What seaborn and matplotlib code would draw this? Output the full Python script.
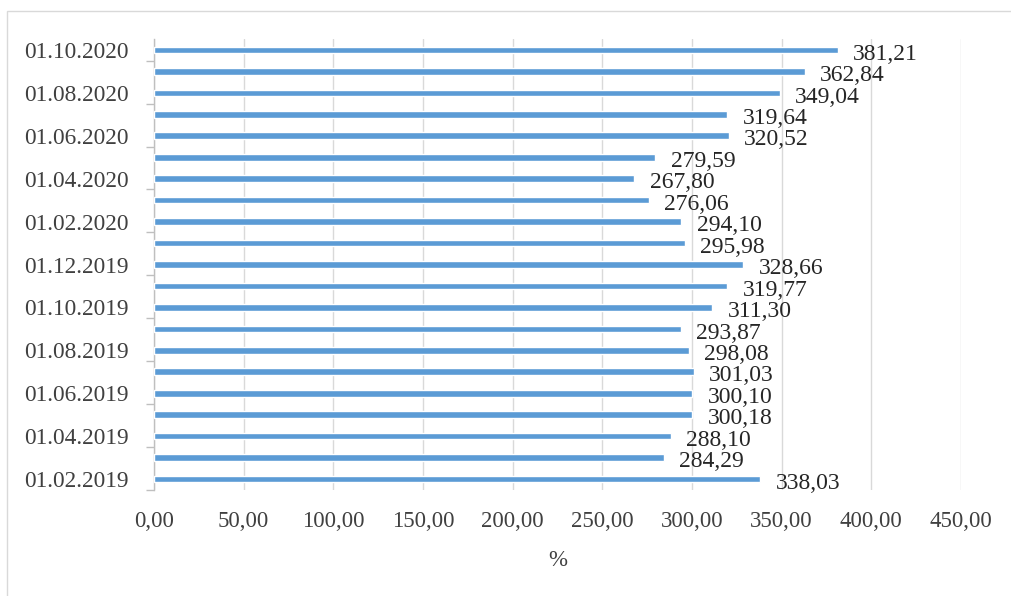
import matplotlib
matplotlib.use("Agg")
import matplotlib.pyplot as plt
from matplotlib.patches import Rectangle
from matplotlib.ticker import FixedLocator, FuncFormatter
import seaborn as sns
import pandas as pd

# Monthly dates, newest first (drawn top to bottom)
dates = [
    "01.10.2020", "01.09.2020", "01.08.2020", "01.07.2020", "01.06.2020",
    "01.05.2020", "01.04.2020", "01.03.2020", "01.02.2020", "01.01.2020",
    "01.12.2019", "01.11.2019", "01.10.2019", "01.09.2019", "01.08.2019",
    "01.07.2019", "01.06.2019", "01.05.2019", "01.04.2019", "01.03.2019",
    "01.02.2019",
]
values = [
    381.21, 362.84, 349.04, 319.64, 320.52,
    279.59, 267.80, 276.06, 294.10, 295.98,
    328.66, 319.77, 311.30, 293.87, 298.08,
    301.03, 300.10, 300.18, 288.10, 284.29,
    338.03,
]
x_ticks = [0, 50, 100, 150, 200, 250, 300, 350, 400, 450]
x_label = "%"

df = pd.DataFrame({"date": dates, "value": values})

sns.set_theme(style="white")
plt.rcParams["font.family"] = ["Liberation Serif", "DejaVu Serif"]

W, H = 1012, 596
fig = plt.figure(figsize=(W / 100, H / 100), dpi=100)
ax = fig.add_axes([154 / W, 1 - 489.7 / H, (961 - 154) / W, (489.7 - 39.3) / H])

bar_color = "#5b9bd5"
sns.barplot(data=df, x="value", y="date", order=dates, orient="h",
            color=bar_color, width=0.31, saturation=1, ax=ax, zorder=3)

ax.set_xlim(0, 450)
ax.set_ylim(len(dates) - 0.5, -0.5)

# x axis: ticks and vertical grid
ax.xaxis.set_major_locator(FixedLocator(x_ticks))
ax.xaxis.set_major_formatter(FuncFormatter(lambda v, p: f"{v:.2f}".replace(".", ",")))
ax.grid(axis="x", color="#d9d9d9", linewidth=1.0, zorder=0)
ax.grid(axis="y", visible=False)
ax.tick_params(axis="x", length=0, pad=15, labelsize=16.5, labelcolor="#404040")
ax.set_xlabel(x_label, fontsize=16.5, color="#404040", labelpad=13)

# y axis: label every second month, tick marks at group boundaries
ax.set_yticks(range(0, len(dates), 2))
ax.set_yticklabels(dates[::2])
ax.set_yticks([i + 0.5 for i in range(0, len(dates), 2)], minor=True)
ax.tick_params(axis="y", which="major", length=0, pad=18, labelsize=16.8,
               labelcolor="#404040")
ax.tick_params(axis="y", which="minor", left=True, length=6, width=1,
               color="#bfbfbf", direction="out")
ax.set_ylabel("")

for side in ("top", "right", "bottom"):
    ax.spines[side].set_visible(False)
ax.spines["left"].set_color("#bfbfbf")
ax.spines["left"].set_linewidth(1.0)

# value labels at the bar ends
for i, v in enumerate(values):
    ax.annotate(f"{v:.2f}".replace(".", ","), xy=(v, i), xytext=(11, -3),
                textcoords="offset points", ha="left", va="center",
                fontsize=17, color="#262626", zorder=4)

# chart frame
fig.patches.append(Rectangle((7 / W, -0.05), 1.1, 1 - 11 / H + 0.05,
                             transform=fig.transFigure, fill=False,
                             edgecolor="#d9d9d9", linewidth=1.0))

fig.savefig("out.png", dpi=100, facecolor="white")
